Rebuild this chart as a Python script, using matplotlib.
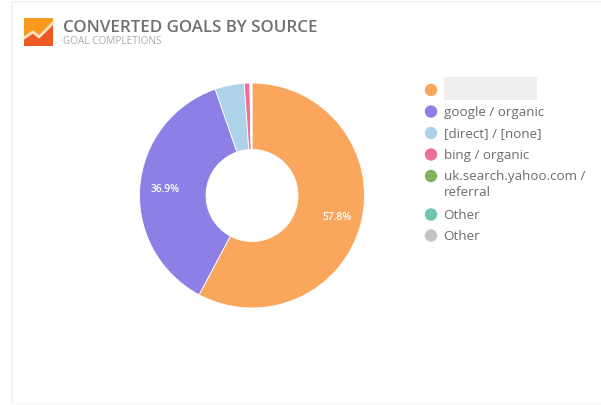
import math
import matplotlib
matplotlib.use("Agg")
import matplotlib.pyplot as plt
from matplotlib.patches import Rectangle, Polygon

W, H = 601, 406

# Goal completions per source, in percent
sources = ["", "google / organic", "[direct] / [none]", "bing / organic",
           "uk.search.yahoo.com /\nreferral", "Other", "Other"]
shares = [57.8, 36.9, 4.2, 0.8, 0.1, 0.1, 0.1]
colors = ["#FBA65D", "#8C7FE6", "#ADD3E8", "#EE6F96", "#86B35F", "#6FC4B0", "#C4C4C4"]
shown_labels = {0: "57.8%", 1: "36.9%"}

plt.rcParams["font.family"] = ["Open Sans", "DejaVu Sans"]
fig = plt.figure(figsize=(W / 100, H / 100), dpi=100, facecolor="white")

# Overlay in pixel coordinates for the card, header and legend
page = fig.add_axes([0, 0, 1, 1])
page.set_xlim(0, W)
page.set_ylim(H, 0)
page.axis("off")

page.plot([11.5, 11.5, W], [H - 2, 3, 3], color="#F1F1F1", lw=1.2)
page.plot([11.5, W], [H - 2, H - 2], color="#F6F6F6", lw=1)

# Header icon
page.add_patch(Rectangle((24, 19), 29, 28, color="#F79A1E", lw=0))
page.add_patch(Polygon([(24, 47), (24, 39), (33, 33), (39, 38), (53, 24), (53, 47)],
                       color="#EE5A24", lw=0))
page.plot([24, 33, 39, 53], [39, 33, 38, 24], color="#FBE3C4", lw=2)

page.text(63, 28.5, "CONVERTED GOALS BY SOURCE", fontsize=12.2, color="#6F6F6F",
          fontweight="semibold", va="center", ha="left")
page.text(63, 41.5, "GOAL COMPLETIONS", fontsize=7.2, color="#ABABAB", va="center", ha="left")

# Donut
cx, cy, radius = 252, 196.5, 112.5
ax = fig.add_axes([(cx - radius) / W, 1 - (cy + radius) / H, 2 * radius / W, 2 * radius / H])
wedges, _ = ax.pie(shares, colors=colors, startangle=90, counterclock=False, radius=1,
                   wedgeprops=dict(width=1 - 46 / radius, edgecolor="white", linewidth=0.6))
ax.set_xlim(-1, 1)
ax.set_ylim(-1, 1)
ax.set_aspect("equal")

cumulative = 0
for i, value in enumerate(shares):
    if i in shown_labels:
        mid = math.radians(90 - (cumulative + value / 2) * 3.6)
        r = 0.775
        ax.text(r * math.cos(mid), r * math.sin(mid), shown_labels[i], color="white",
                fontsize=7.4, fontweight="semibold", ha="center", va="center")
    cumulative += value

# Legend rows
row_y = [91, 112.5, 134, 155.5, 177, 215.5, 236.5]
page.add_patch(Rectangle((443.5, 77.5), 93.5, 23, color="#EFEFEF", lw=0))
page.scatter([431] * len(row_y), row_y, s=80, c=colors, linewidths=0, zorder=3)
for y, label in zip(row_y, sources):
    if label:
        page.text(443.5, y - 6.5, label, fontsize=9.6, color="#6B6B6B", va="top", ha="left",
                  linespacing=1.3)

fig.savefig("out.png", dpi=100, facecolor="white")
